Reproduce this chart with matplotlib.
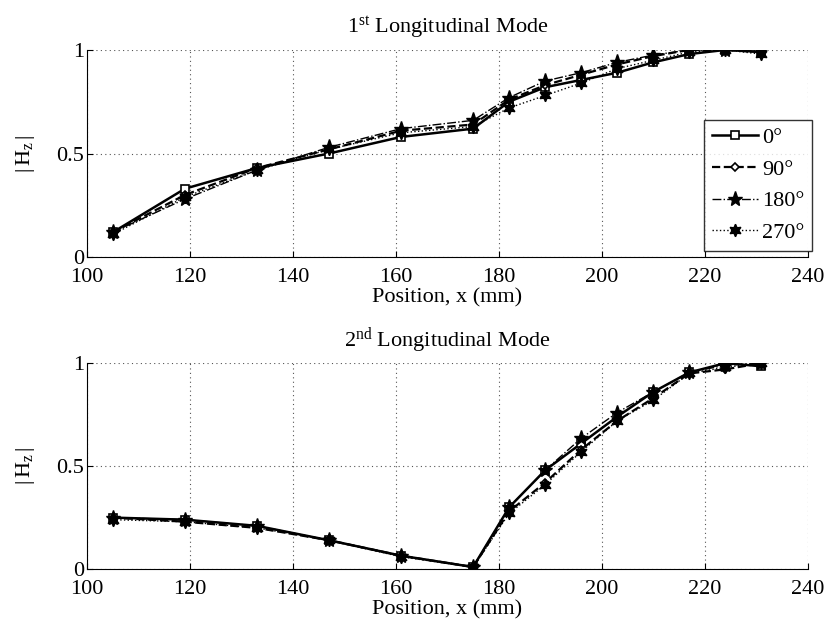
import matplotlib
matplotlib.use("Agg")
import matplotlib.pyplot as plt

plt.rcParams["font.family"] = ["Liberation Serif", "DejaVu Serif"]
plt.rcParams["mathtext.fontset"] = "custom"
plt.rcParams["mathtext.rm"] = "Liberation Serif"
plt.rcParams["mathtext.it"] = "Liberation Serif"

# ─── data ──────────────────────────────────────────────────────────────────
position = [105, 119, 133, 147, 161, 175, 182, 189, 196, 203, 210, 217, 224, 231]
angles = ["0°", "90°", "180°", "270°"]

mode1_0   = [0.12, 0.33, 0.43, 0.50, 0.58, 0.62, 0.75, 0.82, 0.855, 0.89, 0.94, 0.98, 1.00, 0.99]
mode1_90  = [0.12, 0.30, 0.43, 0.52, 0.61, 0.64, 0.76, 0.83, 0.88, 0.93, 0.97, 1.00, 1.00, 0.99]
mode1_180 = [0.12, 0.28, 0.42, 0.53, 0.62, 0.66, 0.77, 0.85, 0.89, 0.94, 0.975, 1.00, 1.00, 1.00]
mode1_270 = [0.11, 0.29, 0.42, 0.52, 0.60, 0.63, 0.72, 0.78, 0.84, 0.91, 0.95, 0.99, 1.00, 0.98]

mode2_0   = [0.25, 0.24, 0.21, 0.14, 0.065, 0.01, 0.30, 0.48, 0.61, 0.74, 0.86, 0.955, 1.00, 0.985]
mode2_90  = [0.25, 0.23, 0.20, 0.14, 0.065, 0.01, 0.28, 0.42, 0.58, 0.72, 0.83, 0.95, 0.97, 1.00]
mode2_180 = [0.25, 0.24, 0.21, 0.14, 0.065, 0.01, 0.30, 0.48, 0.635, 0.76, 0.86, 0.955, 0.99, 1.00]
mode2_270 = [0.24, 0.23, 0.20, 0.14, 0.06, 0.01, 0.27, 0.41, 0.57, 0.72, 0.82, 0.95, 0.98, 1.00]

titles = [r"1$^{\mathrm{st}}$ Longitudinal Mode", r"2$^{\mathrm{nd}}$ Longitudinal Mode"]

FS = 16
STYLES = [
    dict(ls="-",  lw=1.8, marker="s", ms=6, mfc="white", mec="black", mew=1.2),
    dict(ls="--", lw=1.6, marker="D", ms=4.5, mfc="white", mec="black", mew=1.2),
    dict(ls="-.", lw=1.0, marker="*", ms=11, mfc="black", mec="black"),
    dict(ls=":",  lw=1.0, marker=(6, 1, 0), ms=9, mfc="black", mec="black"),
]

fig = plt.figure(figsize=(8.3, 6.24), dpi=100)
ax1 = fig.add_axes([0.105, 0.588, 0.868, 0.332])
ax2 = fig.add_axes([0.105, 0.088, 0.868, 0.330])

series = [[mode1_0, mode1_90, mode1_180, mode1_270],
          [mode2_0, mode2_90, mode2_180, mode2_270]]

for ax, data, title in zip([ax1, ax2], series, titles):
    for vals, lbl, st in zip(data, angles, STYLES):
        ax.plot(position, vals, color="black", label=lbl, **st)
    ax.set_xlim(100, 240)
    ax.set_ylim(0, 1)
    ax.set_xticks(range(100, 241, 20))
    ax.set_yticks([0, 0.5, 1])
    ax.set_yticklabels(["0", "0.5", "1"])
    ax.grid(True, ls=(0, (1, 3)), color="#555555", lw=0.8)
    ax.spines["top"].set_visible(False)
    ax.spines["right"].set_visible(False)
    ax.tick_params(direction="in", labelsize=FS, length=4, pad=2)
    ax.tick_params(axis="x", pad=8)
    ax.set_xlabel("Position, x (mm)", fontsize=FS, labelpad=1)
    ax.set_ylabel(r"$|\,\mathrm{H}_{\mathrm{z}}\,|$", fontsize=FS, labelpad=14)
    ax.set_title(title, fontsize=FS, pad=12)

leg = ax1.legend(loc="lower right", bbox_to_anchor=(1.006, 0.03), fontsize=FS,
                 frameon=True, fancybox=False, edgecolor="black",
                 handlelength=2.1, handletextpad=0.15, labelspacing=0.5,
                 borderpad=0.35, borderaxespad=0.0)
leg.get_frame().set_linewidth(1.0)

fig.savefig("out.png", dpi=100)
